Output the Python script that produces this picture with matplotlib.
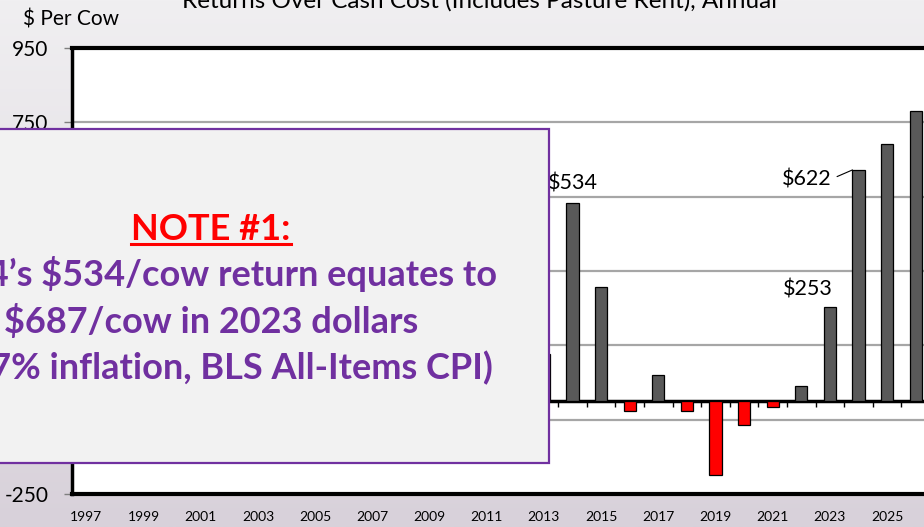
import numpy as np
import matplotlib
matplotlib.use("Agg")
import matplotlib.pyplot as plt
from matplotlib.patches import Rectangle
from matplotlib.lines import Line2D

# --- Data ---
years = list(range(1997, 2027))
# 1997-2012 sit behind the note box in the source, so these are rough estimates
returns = [45, 30, 70, 95, 110, 65, 160, 190, 175, 120, 55, -10, 15, 60, 135, 75,
           128, 534, 308, -26, 70, -27, -198, -64, -17, 41, 253, 622, 693, 780]
label_years = [2014, 2023, 2024]
label_texts = ["$534", "$253", "$622"]
tick_years = list(range(1997, 2026, 2))
y_ticks = [-250, -50, 150, 350, 550, 750, 950]
y_shown = [-250, 750, 950]  # the rest are hidden behind the note box

title = "Returns Over Cash Cost (Includes Pasture Rent), Annual"
y_label = "$ Per Cow"
note_head = "NOTE #1:"
note_lines = ["2014\u2019s $534/cow return equates to",
              "$687/cow in 2023 dollars",
              "(28.7% inflation, BLS All-Items CPI)"]

# --- Style ---
plt.rcParams['font.family'] = ['Lato', 'DejaVu Sans']
W, H = 924, 527
GREY_BAR = '#595959'
RED = '#ff0000'
PURPLE = '#7030a0'
bar_w = 0.42

fig = plt.figure(figsize=(W / 100, H / 100), dpi=100)

# slide-like background gradient
bg = fig.add_axes([0, 0, 1, 1], zorder=-10)
grad = np.linspace(0, 1, 256).reshape(-1, 1)
top_c = np.array([240, 239, 241]) / 255
bot_c = np.array([216, 209, 218]) / 255
img = top_c + (bot_c - top_c) * grad[..., None]
bg.imshow(img, aspect='auto', extent=[0, 1, 0, 1])
bg.axis('off')

# main plot area (runs a little past the right edge, as in the source)
ax = fig.add_axes([72 / W, 33 / H, (930 - 72) / W, 446 / H])
ax.set_facecolor('white')

yrs = np.array(years)
vals = np.array(returns)
colors = [GREY_BAR if v >= 0 else RED for v in vals]
ax.bar(yrs, vals, width=bar_w, color=colors, edgecolor='black', linewidth=0.9, zorder=3)

ax.set_xlim(years[0] - 0.5, years[-1] + 0.5)
ax.set_ylim(-250, 950)
ax.set_yticks(y_ticks)
ax.set_yticklabels([str(t) if t in y_shown else '' for t in y_ticks], fontsize=15)
ax.set_xticks(tick_years)
ax.set_xticklabels([str(t) for t in tick_years], fontsize=10)
ax.tick_params(axis='x', length=0, pad=12)
ax.tick_params(axis='y', length=6, width=1, color='#7f7f7f', pad=11)
ax.grid(axis='y', color='#a6a6a6', linewidth=1.6, zorder=1)
ax.set_axisbelow(True)
for s in ['top', 'left', 'bottom', 'right']:
    ax.spines[s].set_color('black')
ax.spines['top'].set_linewidth(3)
ax.spines['bottom'].set_linewidth(3)
ax.spines['left'].set_linewidth(2.5)

# zero line with small ticks between categories
zero_frac = (0 - (-250)) / (950 - (-250))
sec = ax.secondary_xaxis(zero_frac)
sec.set_xticks(list(yrs[:-1] + 0.5))
sec.set_xticklabels([])
sec.tick_params(axis='x', direction='out', length=4, width=1, color='black')
sec.spines['bottom'].set_linewidth(2.5)

# value labels
for yr, txt in zip(label_years, label_texts):
    v = returns[years.index(yr)]
    if yr == 2014:
        ax.text(yr, v + 36, txt, ha='center', va='baseline', fontsize=15.5, zorder=4)
    elif yr == 2023:
        ax.text(yr - 0.77, v + 31, txt, ha='center', va='baseline', fontsize=15.5, zorder=4)
    else:
        ax.text(yr - 0.93, v - 42, txt, ha='right', va='baseline', fontsize=15.5, zorder=4)
        ax.annotate('', xy=(yr - bar_w / 2, v), xytext=(yr - 0.75, v - 18),
                    arrowprops=dict(arrowstyle='-', color='black', lw=0.8,
                                    shrinkA=0, shrinkB=0), zorder=4)

fig.text(480 / W, 1 - 8 / H, title, ha='center', va='baseline', fontsize=17.5)
fig.text(23 / W, 1 - 26 / H, y_label, ha='left', va='baseline', fontsize=15)

# note box laid over the left half of the chart
box = Rectangle((-127 / W, (H - 463) / H), 676 / W, 334 / H, transform=fig.transFigure,
                facecolor='#f2f2f2', edgecolor=PURPLE, linewidth=1.6, zorder=5)
fig.patches.append(box)

cx = 211 / W
head = fig.text(cx, 1 - 240 / H, note_head, ha='center', va='baseline', fontsize=26,
                fontweight='bold', color=RED, zorder=6)
for i, line in enumerate(note_lines):
    fig.text(cx, 1 - (286 + 46.5 * i) / H, line, ha='center', va='baseline', fontsize=26,
             fontweight='bold', color=PURPLE, zorder=6)

# underline the heading
fig.canvas.draw()
bb = head.get_window_extent().transformed(fig.transFigure.inverted())
uy = 1 - 244 / H
fig.lines.append(Line2D([bb.x0, bb.x1], [uy, uy], transform=fig.transFigure,
                        color=RED, linewidth=2.2, zorder=6))

fig.savefig('out.png', dpi=100)
